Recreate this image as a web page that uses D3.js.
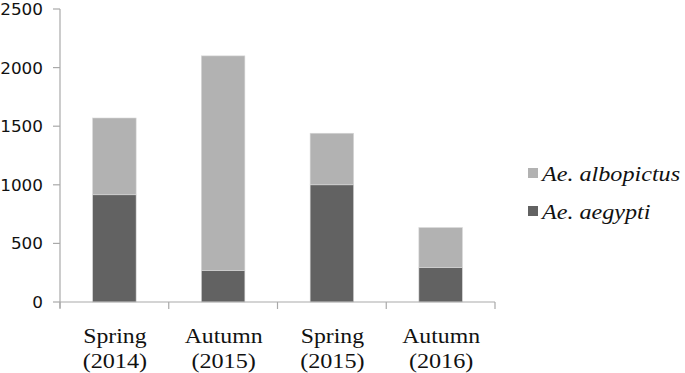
<!DOCTYPE html>
<html>
<head>
<meta charset="utf-8">
<script src="https://cdn.jsdelivr.net/npm/d3@7"></script>
<style>
  body { margin: 0; background: #fff; }
  svg { display: block; }
</style>
</head>
<body>
<div class="chart"></div>
<script>
// data
const seasons = ['Spring', 'Autumn', 'Spring', 'Autumn'];
const years = ['(2014)', '(2015)', '(2015)', '(2016)'];
const aegypti = [915, 270, 1000, 295];
const albopictus = [655, 1830, 440, 340];
const yTicks = [0, 500, 1000, 1500, 2000, 2500];
const seriesNames = ['Ae. aegypti', 'Ae. albopictus'];

const width = 685;
const height = 373;
const colors = { 'Ae. aegypti': '#626262', 'Ae. albopictus': '#b2b2b2' };
const axisColor = '#a9a9a9';
const serif = "'Liberation Serif'";

const svg = d3
	.select('.chart')
	.append('svg')
	.attr('width', width)
	.attr('height', height);

const cats = seasons.map((s, i) => i);
const rows = cats.map((i) => ({ i, 'Ae. aegypti': aegypti[i], 'Ae. albopictus': albopictus[i] }));
const stack = d3.stack().keys(seriesNames)(rows);

const x = d3.scaleBand().domain(cats).range([ 60, 495 ]).padding(0);
const y = d3.scaleLinear().domain([ 0, 2500 ]).range([ 302, 9 ]);
const barW = x.bandwidth() * 0.4;

// bars
svg
	.append('g')
	.selectAll('g')
	.data(stack)
	.join('g')
	.attr('fill', (d) => colors[d.key])
	.selectAll('rect')
	.data((d) => d)
	.join('rect')
	.attr('x', (d) => x(d.data.i) + (x.bandwidth() - barW) / 2)
	.attr('y', (d) => y(d[1]))
	.attr('width', barW)
	.attr('height', (d) => y(d[0]) - y(d[1]))
	.attr('stroke', '#d8d8d8')
	.attr('stroke-width', 0.6);

// y axis
const yAxis = svg.append('g').attr('transform', 'translate(60,0)');
yAxis.append('line').attr('x1', 0).attr('x2', 0).attr('y1', y(2500)).attr('y2', 308).attr('stroke', axisColor).attr('stroke-width', 1.2);
yAxis
	.selectAll('line.tick')
	.data(yTicks)
	.join('line')
	.attr('class', 'tick')
	.attr('x1', -7)
	.attr('x2', 0)
	.attr('y1', (d) => y(d))
	.attr('y2', (d) => y(d))
	.attr('stroke', axisColor)
	.attr('stroke-width', 1.2);
yAxis
	.selectAll('text')
	.data(yTicks)
	.join('text')
	.attr('transform', (d) => `translate(-17,${y(d) + 6}) scale(1.02,1)`)
	.attr('text-anchor', 'end')
	.style('font-family', "'DejaVu Sans'")
	.attr('font-size', 16.5)
	.attr('fill', '#111')
	.text((d) => d);

// x axis
const xAxis = svg.append('g');
xAxis.append('line').attr('x1', 60).attr('x2', 495).attr('y1', y(0)).attr('y2', y(0)).attr('stroke', axisColor).attr('stroke-width', 1.2);
xAxis
	.selectAll('line.tick')
	.data(cats.concat([ cats.length ]))
	.join('line')
	.attr('class', 'tick')
	.attr('x1', (d) => 60 + d * x.step())
	.attr('x2', (d) => 60 + d * x.step())
	.attr('y1', y(0))
	.attr('y2', y(0) + 7)
	.attr('stroke', axisColor)
	.attr('stroke-width', 1.2);

const labels = xAxis
	.selectAll('g.lab')
	.data(cats)
	.join('g')
	.attr('class', 'lab');
labels
	.append('text')
	.attr('transform', (d) => `translate(${x(d) + x.bandwidth() / 2 + 0.5},343) scale(1.08,1)`)
	.attr('text-anchor', 'middle')
	.style('font-family', serif)
	.attr('font-size', 22)
	.attr('fill', '#111')
	.text((d) => seasons[d]);
labels
	.append('text')
	.attr('transform', (d) => `translate(${x(d) + x.bandwidth() / 2 + 0.5},368) scale(1.1,1)`)
	.attr('text-anchor', 'middle')
	.style('font-family', serif)
	.attr('font-size', 22)
	.attr('fill', '#111')
	.text((d) => years[d]);

// legend
const legend = svg
	.append('g')
	.selectAll('g')
	.data(seriesNames.slice().reverse())
	.join('g')
	.attr('transform', (d, i) => `translate(528,${168 + i * 38})`);
legend.append('rect').attr('width', 10).attr('height', 10).attr('fill', (d) => colors[d]);
legend
	.append('text')
	.attr('transform', 'translate(14,12.5) scale(1.15,1)')
	.style('font-family', serif)
	.style('font-style', 'italic')
	.attr('font-size', 21)
	.attr('fill', '#111')
	.text((d) => d);
</script>
</body>
</html>
